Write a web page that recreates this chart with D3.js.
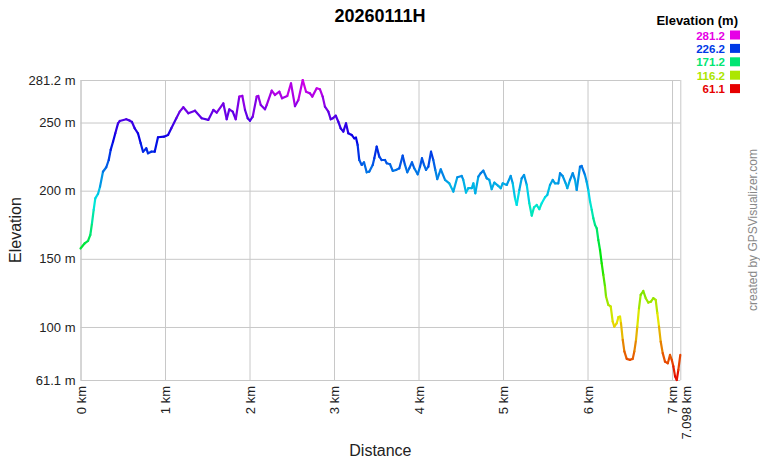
<!DOCTYPE html>
<html>
<head>
<meta charset="utf-8">
<script src="https://cdn.jsdelivr.net/npm/d3@7"></script>
<style>
  body { margin: 0; background: #fff; }
  svg text { font-family: Arial, "Liberation Sans", sans-serif; }
</style>
</head>
<body>
<div id="container"></div>
<script>
/* CONSTANTS AND GLOBALS */
const width = 760,
  height = 460,
  margin = { top: 80, bottom: 80, left: 80.5, right: 79.7 };

const title = "20260111H";
const minEle = 61.1, maxEle = 281.2, totalKm = 7.098;

// distance along the track (km) and elevation (m)
const distKm = [
  0, 0.050, 0.089, 0.116, 0.136, 0.156, 0.175, 0.207, 0.231, 0.266,
  0.305, 0.334, 0.357, 0.385, 0.412, 0.444, 0.464, 0.542, 0.582, 0.609,
  0.641, 0.680, 0.712, 0.740, 0.779, 0.799, 0.838, 0.878, 0.917, 0.988,
  1.036, 1.075, 1.134, 1.174, 1.217, 1.276, 1.355, 1.434, 1.512, 1.572,
  1.612, 1.690, 1.730, 1.761, 1.801, 1.837, 1.879, 1.915, 1.947, 1.979,
  2.006, 2.038, 2.085, 2.104, 2.133, 2.183, 2.204, 2.263, 2.302, 2.353,
  2.385, 2.447, 2.491, 2.538, 2.578, 2.630, 2.669, 2.716, 2.743, 2.795,
  2.834, 2.866, 2.893, 2.933, 2.961, 2.985, 3.021, 3.051, 3.079, 3.110,
  3.142, 3.169, 3.209, 3.240, 3.260, 3.280, 3.299, 3.328, 3.355, 3.387,
  3.418, 3.458, 3.477, 3.505, 3.536, 3.564, 3.604, 3.624, 3.663, 3.695,
  3.734, 3.773, 3.813, 3.840, 3.867, 3.891, 3.923, 3.950, 3.990, 4.018,
  4.041, 4.065, 4.089, 4.116, 4.148, 4.175, 4.199, 4.222, 4.263, 4.314,
  4.364, 4.412, 4.459, 4.511, 4.530, 4.562, 4.589, 4.630, 4.649, 4.672,
  4.708, 4.736, 4.767, 4.807, 4.838, 4.866, 4.897, 4.944, 4.973, 4.996,
  5.044, 5.091, 5.115, 5.142, 5.162, 5.193, 5.221, 5.249, 5.281, 5.311,
  5.340, 5.367, 5.399, 5.430, 5.458, 5.497, 5.524, 5.556, 5.588, 5.615,
  5.654, 5.675, 5.706, 5.742, 5.761, 5.793, 5.825, 5.852, 5.872, 5.911,
  5.931, 5.970, 5.990, 6.009, 6.030, 6.050, 6.069, 6.089, 6.109, 6.128,
  6.148, 6.168, 6.187, 6.207, 6.219, 6.246, 6.275, 6.298, 6.317, 6.346,
  6.365, 6.385, 6.396, 6.417, 6.436, 6.464, 6.503, 6.535, 6.554, 6.574,
  6.589, 6.609, 6.629, 6.660, 6.689, 6.720, 6.751, 6.779, 6.807, 6.826,
  6.846, 6.866, 6.890, 6.917, 6.950, 6.976, 6.997, 7.016, 7.036, 7.056,
  7.075, 7.098
];
const elevM = [
  157.6, 161.4, 163.1, 167.5, 176.1, 185.9, 194.4, 197.6, 202.9, 213.9,
  217.2, 222.5, 229.9, 235.9, 242.1, 249.4, 251.1, 252.4, 251.4, 250.4,
  245.8, 242.1, 234.8, 228.6, 231.1, 227.4, 228.6, 228.6, 239.2, 239.6,
  240.9, 245.8, 253.1, 258.0, 261.2, 256.8, 258.7, 253.1, 251.9, 259.2,
  257.3, 264.1, 252.4, 259.7, 258.0, 252.4, 269.0, 269.5, 259.2, 253.1,
  251.3, 254.3, 269.0, 269.5, 262.9, 259.7, 262.9, 273.4, 270.2, 272.6,
  267.8, 269.5, 278.8, 262.0, 266.5, 281.2, 272.6, 271.4, 269.0, 275.1,
  274.4, 269.0, 261.6, 258.0, 252.4, 253.1, 255.0, 250.6, 245.7, 243.3,
  249.4, 242.1, 240.9, 238.4, 238.9, 233.5, 222.5, 218.9, 220.8, 213.5,
  214.0, 218.9, 223.8, 232.3, 225.0, 222.5, 222.5, 220.1, 219.4, 214.5,
  215.2, 216.4, 225.7, 218.9, 213.5, 216.4, 220.8, 216.4, 212.0, 217.6,
  223.8, 218.9, 215.2, 217.6, 228.6, 222.5, 215.2, 208.5, 215.7, 207.9,
  205.4, 199.3, 209.8, 210.8, 207.9, 198.6, 201.8, 201.8, 205.4, 198.1,
  210.3, 212.8, 214.7, 209.1, 207.9, 201.1, 205.9, 203.5, 201.8, 205.4,
  204.2, 210.8, 205.4, 194.4, 189.5, 200.5, 209.1, 211.5, 204.2, 190.8,
  181.7, 187.8, 189.5, 186.4, 190.8, 195.2, 196.9, 204.2, 207.9, 205.4,
  205.4, 212.8, 210.8, 205.4, 201.8, 207.9, 212.8, 207.9, 200.5, 217.6,
  218.1, 211.5, 206.6, 200.5, 192.0, 185.9, 179.8, 174.9, 172.4, 163.8,
  156.5, 146.7, 138.2, 129.6, 122.3, 116.2, 115.0, 104.0, 100.3, 102.8,
  107.2, 107.6, 102.8, 90.6, 82.1, 76.6, 75.9, 76.6, 82.1, 90.6,
  100.3, 113.7, 123.5, 126.4, 121.1, 117.9, 118.6, 121.1, 119.9, 110.1,
  100.3, 89.3, 80.8, 74.6, 73.4, 79.5, 75.9, 71.1, 63.8, 61.1,
  68.5, 79.5
];

const xTicks = [0, 1, 2, 3, 4, 5, 6, 7, totalKm];
const yTicks = [minEle, 100, 150, 200, 250, maxEle];
const legendValues = [281.2, 226.2, 171.2, 116.2, 61.1];

const points = distKm.map((d, i) => ({ km: d, ele: elevM[i] }));

/* SCALES */
const xScale = d3.scaleLinear()
  .domain([0, totalKm])
  .range([margin.left, width - margin.right]);

const yScale = d3.scaleLinear()
  .domain([minEle, maxEle])
  .range([height - margin.bottom, margin.top]);

// elevation -> hue, red at the bottom through to magenta at the top
const hueScale = d3.scaleLinear()
  .domain([minEle, maxEle])
  .range([0, 300]);
const color = e => d3.hsl(hueScale(e), 1, 0.45).formatHex();

/* SVG */
const svg = d3.select("#container")
  .append("svg")
  .attr("width", width)
  .attr("height", height);

// + AXES / GRID
const xAxis = d3.axisBottom(xScale)
  .tickValues(xTicks)
  .tickFormat(d => (d === totalKm ? d3.format(".3f")(d) : d) + " km")
  .tickSize(-(height - margin.top - margin.bottom))
  .tickSizeOuter(0);

const yAxis = d3.axisLeft(yScale)
  .tickValues(yTicks)
  .tickFormat(d => d + " m")
  .tickSize(-(width - margin.left - margin.right))
  .tickSizeOuter(0);

const xAxisGroup = svg.append("g")
  .attr("class", "xAxis")
  .attr("transform", `translate(0, ${height - margin.bottom})`)
  .call(xAxis);

xAxisGroup.select(".domain").remove();
xAxisGroup.selectAll("line").attr("stroke", "#c8c8c8");
xAxisGroup.selectAll("text")
  .attr("transform", "rotate(-90)")
  .attr("text-anchor", "end")
  .attr("x", -6)
  .attr("y", (d) => d === totalKm ? 6 : 0)
  .attr("dy", "0.35em")
  .attr("fill", "#222")
  .style("font-size", "13px");

const yAxisGroup = svg.append("g")
  .attr("class", "yAxis")
  .attr("transform", `translate(${margin.left}, 0)`)
  .call(yAxis);

yAxisGroup.select(".domain").attr("stroke", "#c8c8c8");
yAxisGroup.selectAll("line").attr("stroke", "#c8c8c8");
yAxisGroup.selectAll("text")
  .attr("x", -5)
  .attr("fill", "#222")
  .style("font-size", "13px");

// + PROFILE LINE, one segment per pair of points coloured by elevation
const line = d3.line()
  .x(d => xScale(d.km))
  .y(d => yScale(d.ele));

const segments = d3.pairs(points);

svg.append("g")
  .selectAll("path.seg")
  .data(segments)
  .join("path")
  .attr("class", "seg")
  .attr("d", d => line(d))
  .attr("fill", "none")
  .attr("stroke", d => color((d[0].ele + d[1].ele) / 2))
  .attr("stroke-width", 2.2)
  .attr("stroke-linecap", "round")
  .attr("stroke-linejoin", "round");

// + TITLES
svg.append("text")
  .attr("x", width / 2)
  .attr("y", 22)
  .attr("text-anchor", "middle")
  .style("font-size", "18px")
  .style("font-weight", "bold")
  .text(title);

svg.append("text")
  .attr("x", (margin.left + width - margin.right) / 2)
  .attr("y", 456)
  .attr("text-anchor", "middle")
  .style("font-size", "16px")
  .attr("fill", "#222")
  .text("Distance");

svg.append("text")
  .attr("transform", `translate(21, ${(margin.top + height - margin.bottom) / 2}) rotate(-90)`)
  .attr("text-anchor", "middle")
  .style("font-size", "16px")
  .attr("fill", "#222")
  .text("Elevation");

svg.append("text")
  .attr("transform", `translate(757, 230) rotate(-90)`)
  .attr("text-anchor", "middle")
  .style("font-size", "12px")
  .attr("fill", "#888")
  .text("created by GPSVisualizer.com");

// + LEGEND
svg.append("text")
  .attr("x", 738)
  .attr("y", 25)
  .attr("text-anchor", "end")
  .style("font-size", "13px")
  .style("font-weight", "bold")
  .text("Elevation (m)");

const legend = svg.append("g")
  .selectAll("g")
  .data(legendValues)
  .join("g")
  .attr("transform", (d, i) => `translate(0, ${30 + i * 13.4})`);

legend.append("rect")
  .attr("x", 730)
  .attr("y", 0.5)
  .attr("width", 10)
  .attr("height", 9)
  .attr("fill", d => color(d));

legend.append("text")
  .attr("x", 725)
  .attr("y", 9.5)
  .attr("text-anchor", "end")
  .style("font-size", "11.5px")
  .style("font-weight", "bold")
  .attr("fill", d => color(d))
  .text(d => d3.format(".1f")(d));
</script>
</body>
</html>
